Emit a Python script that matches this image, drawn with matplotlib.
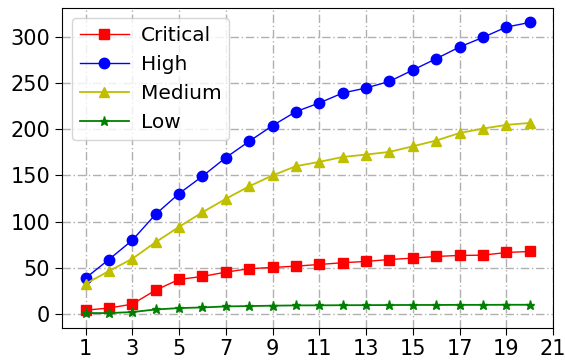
import matplotlib.pyplot as plt
import numpy as np

# --- data ---
x = np.arange(1, 21)
critical = [3.9, 6.1, 10.4, 25.6, 37.2, 40.4, 45.1, 48.8, 50.2, 51.6,
            53.4, 55.3, 56.7, 58.8, 60.3, 62.1, 63.2, 63.5, 66.4, 67.5]
high = [38.6, 58.8, 79.7, 107.9, 130.3, 149.1, 169.3, 187.0, 204.0, 219.2,
        228.6, 239.4, 244.8, 252.0, 264.3, 276.6, 289.3, 299.7, 310.9, 315.9]
medium = [32.5, 46.2, 59.6, 77.6, 94.2, 110.0, 124.6, 138.2, 150.0, 160.0,
          164.7, 170.0, 172.6, 175.5, 181.6, 187.8, 196.0, 200.8, 204.8, 206.9]
low = [0.7, 0.7, 1.8, 4.6, 6.1, 6.8, 7.9, 8.3, 8.7, 9.0,
       9.1, 9.2, 9.3, 9.4, 9.5, 9.5, 9.6, 9.6, 9.7, 9.7]
xticks = list(range(1, 22, 2))

fig = plt.figure(figsize=(5.65, 3.6), dpi=100)
ax = fig.add_axes([0.110, 0.090, 0.869, 0.888])

ax.plot(x, critical, 'rs-', lw=1, ms=7.5, label='Critical')
ax.plot(x, high, 'bo-', lw=1, ms=7.5, label='High')
ax.plot(x, medium, 'y^-', lw=1.3, ms=7.5, label='Medium')
ax.plot(x, low, 'g*-', lw=1.3, ms=6.5, label='Low')

ax.set_xlim(0, 21)
ax.set_xticks(xticks)
ax.tick_params(labelsize=15, length=5)
ax.grid(True, linestyle=(0, (6, 2, 1, 2)), color='#b0b0b0', linewidth=1)
ax.set_axisbelow(True)
ax.legend(loc='upper left', fontsize=14.5, handlelength=2.4, handletextpad=0.6)

fig.savefig('out.png', dpi=100)
